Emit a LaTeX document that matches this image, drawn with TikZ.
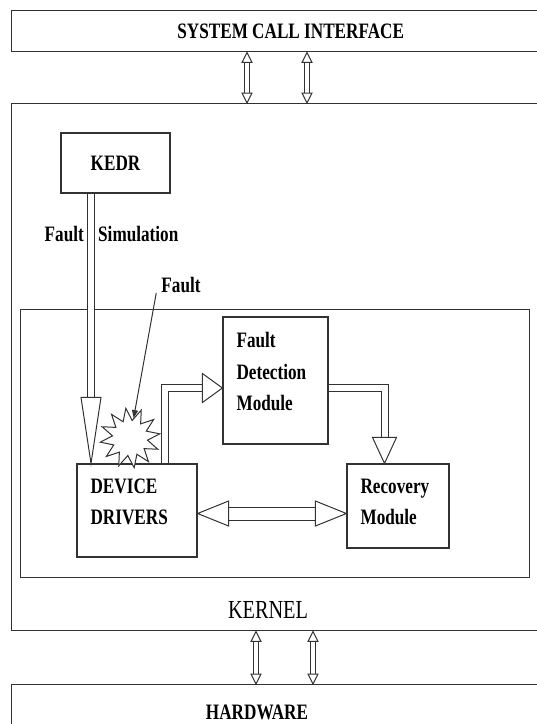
\documentclass[tikz,border=0pt]{standalone}
\usepackage{fontspec}
\setmainfont{Liberation Serif}
\newfontfamily\tallserif[FakeStretch=0.78]{Liberation Serif}
\usetikzlibrary{shapes.geometric, arrows.meta, positioning}
\definecolor{edgegray}{RGB}{50,50,50}

\begin{document}
\begin{tikzpicture}[
    x=1pt, y=-1pt,
    layer/.style={draw=edgegray, line width=1.4pt, minimum width=549pt, anchor=north west, inner sep=0pt},
    module/.style={draw=edgegray, line width=1.2pt, inner sep=0pt, fill=white},
    lbl/.style={inner sep=0pt, align=left, font=\tallserif\fontsize{22}{31.5}\selectfont\bfseries},
    fat/.style={draw=edgegray, line width=1pt, double=white, double distance=#1},
    head/.style={draw=edgegray, line width=1pt, fill=white, line join=miter}
]
\useasboundingbox (0,0) rectangle (537,724);

% Layers
\node[layer, minimum width=558pt, minimum height=41pt, lbl] (sci) at (11,10) {SYSTEM CALL INTERFACE};
\node[layer, minimum height=527pt] (kernel) at (11,103) {};
\node[layer, minimum height=60pt] (hw) at (11,684) {};
\node[lbl] (hwlabel) at (257,712) {HARDWARE};
\node[inner sep=0pt, font=\tallserif\fontsize{26}{30}\selectfont] (kernellabel) at (268,610) {KERNEL};

% Inner region
\node[draw=edgegray, line width=1.2pt, minimum width=509pt, minimum height=268pt, anchor=north west, inner sep=0pt] (core) at (20,309) {};

% Modules
\node[module, minimum width=109pt, minimum height=60pt, lbl] (kedr) at (115.5,163) {KEDR};
\node[module, minimum width=105pt, minimum height=127pt] (fdm) at (275.5,380.5) {};
\node[lbl, anchor=north west] (fdmtext) at ([shift={(14,16)}]fdm.north west) {Fault\\Detection\\Module};
\node[module, minimum width=102pt, minimum height=84pt] (rec) at (398,506) {};
\node[lbl, anchor=north west] (rectext) at ([shift={(14,15)}]rec.north west) {Recovery\\Module};
\node[module, minimum width=120pt, minimum height=93pt] (dd) at (137,510.5) {};
\node[lbl, anchor=north west] (ddtext) at ([shift={(14,15)}]dd.north west) {DEVICE\\DRIVERS};

% Labels
\node[lbl, anchor=east] (fsleft) at (84,234) {Fault};
\node[lbl, anchor=west] (fsright) at (98,234) {Simulation};
\node[lbl] (faultlbl) at (181,285) {Fault};

% Interfaces
\draw[fat=3.5pt, shorten <=10pt, shorten >=10pt] (247,0 |- sci.south) -- (247,0 |- kernel.north);
\draw[head] (247,0 |- sci.south) -- ++(-5,10) -- ++(10,0) -- cycle;
\draw[head] (247,0 |- kernel.north) -- ++(-5,-10) -- ++(10,0) -- cycle;
\draw[fat=3.5pt, shorten <=10pt, shorten >=10pt] (307,0 |- sci.south) -- (307,0 |- kernel.north);
\draw[head] (307,0 |- sci.south) -- ++(-5,10) -- ++(10,0) -- cycle;
\draw[head] (307,0 |- kernel.north) -- ++(-5,-10) -- ++(10,0) -- cycle;
\draw[fat=3.5pt, shorten <=10pt, shorten >=10pt] (256,0 |- kernel.south) -- (256,0 |- hw.north);
\draw[head] (256,0 |- kernel.south) -- ++(-5,10) -- ++(10,0) -- cycle;
\draw[head] (256,0 |- hw.north) -- ++(-5,-10) -- ++(10,0) -- cycle;
\draw[fat=3.5pt, shorten <=10pt, shorten >=10pt] (313,0 |- kernel.south) -- (313,0 |- hw.north);
\draw[head] (313,0 |- kernel.south) -- ++(-5,10) -- ++(10,0) -- cycle;
\draw[head] (313,0 |- hw.north) -- ++(-5,-10) -- ++(10,0) -- cycle;

% Fault injection
\draw[fat=6.5pt, shorten >=66pt] (91,0 |- kedr.south) -- (91,0 |- dd.north);
\draw[head] (91,0 |- dd.north) -- ++(-10,-66) -- ++(20,0) -- cycle;
\node[star, star points=12, star point ratio=1.7, minimum size=60pt, draw=edgegray, line width=1pt, fill=white, rotate=8] (burst) at (130,438) {};
\draw[edgegray, line width=1pt, -{Triangle[length=8pt, width=6pt]}] ([xshift=-5pt]faultlbl.south west) -- (burst);

% Detection and recovery
\draw[fat=6pt, shorten >=20pt] (164.5,0 |- dd.north) |- ([yshift=-7.5pt]fdm.west);
\draw[head] ([yshift=-7.5pt]fdm.west) -- ++(-20,-14.5) -- ++(0,29) -- cycle;
\draw[fat=6pt, shorten >=26pt] ([yshift=-7.5pt]fdm.east) -| (384.5,0 |- rec.north);
\draw[head] (384.5,0 |- rec.north) -- ++(-12,-26) -- ++(24,0) -- cycle;
\draw[fat=12pt, shorten <=31pt, shorten >=31pt] (dd.east |- 0,513.5) -- (rec.west |- 0,513.5);
\draw[head] (dd.east |- 0,513.5) -- ++(31,-12.5) -- ++(0,25) -- cycle;
\draw[head] (rec.west |- 0,513.5) -- ++(-31,-12.5) -- ++(0,25) -- cycle;
\end{tikzpicture}
\end{document}
